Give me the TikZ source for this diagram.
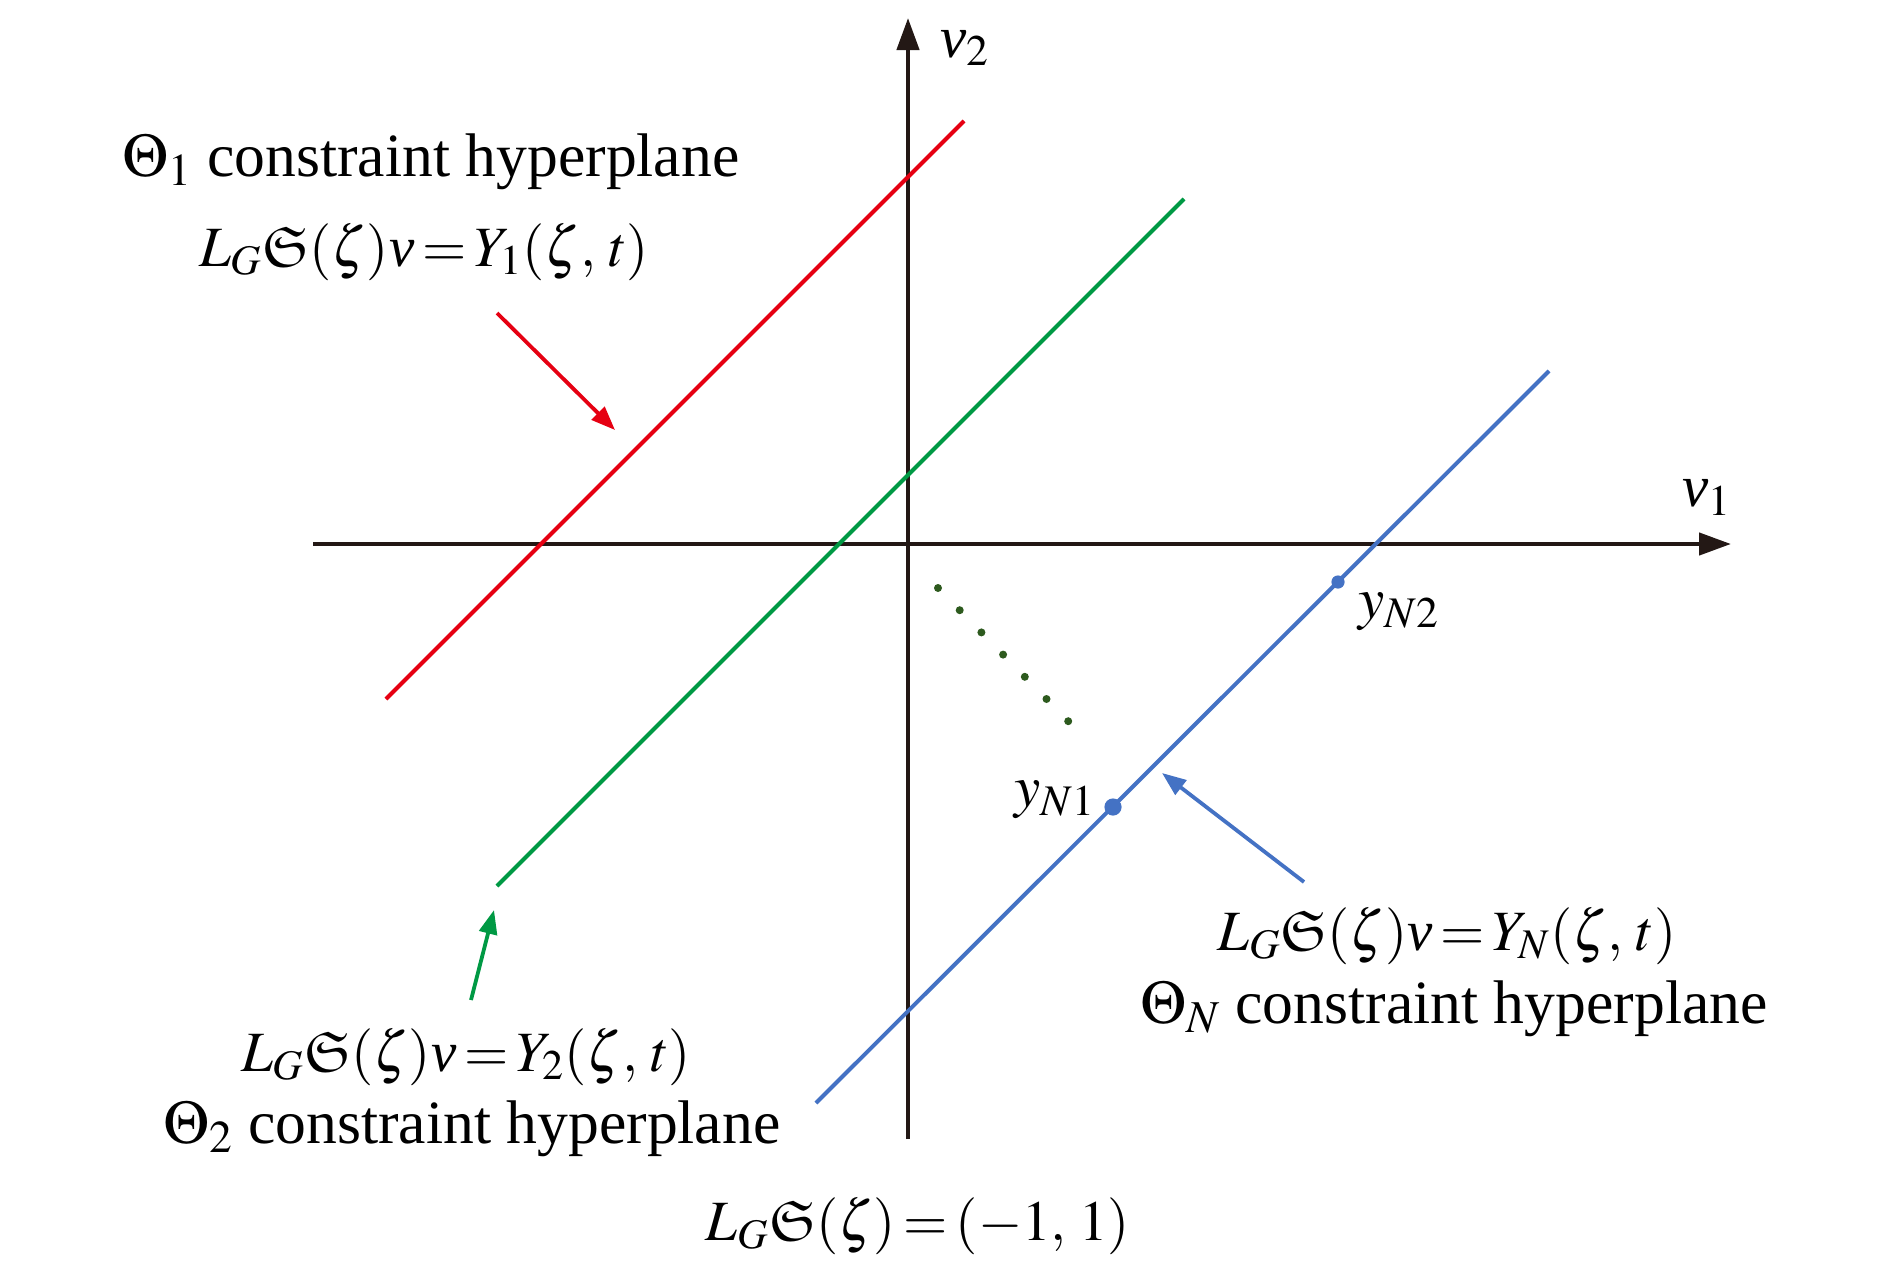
\documentclass[tikz,border=0pt]{standalone}
\usepackage{amssymb}
\usepackage{mathptmx}
\usepackage[no-math]{fontspec}
\setmainfont{Liberation Serif}
\DeclareFontFamily{U}{euf}{}
\DeclareFontShape{U}{euf}{m}{n}{<-> eufm10}{}
\DeclareFontShape{U}{euf}{b}{n}{<-> eufb10}{}
\usetikzlibrary{arrows.meta}
\definecolor{cred}{RGB}{230,0,18}
\definecolor{cgreen}{RGB}{0,153,68}
\definecolor{cblue}{RGB}{68,114,196}
\definecolor{cdots}{RGB}{45,90,30}
\definecolor{caxis}{RGB}{35,24,21}
\newcommand{\tightmath}{\thickmuskip=2.5mu\relax\medmuskip=2.5mu\relax}
\tikzset{
  axisline/.style={draw=caxis,line width=2.2pt,-{Triangle[length=16pt,width=11pt]}},
  hyper/.style={line width=2pt},
  pointer/.style={line width=1.9pt,-{Triangle[length=12pt,width=9pt]}},
  lbl/.style={inner sep=0pt,anchor=base,font=\fontsize{30.8}{36}\selectfont},
  eqn/.style={inner sep=0pt,anchor=base,font=\fontsize{28.5}{34}\selectfont},
  sym/.style={inner sep=0pt,font=\fontsize{29.5}{35}\selectfont},
}
\newcommand{\Sfr}{\mathfrak{S}}
\newcommand{\vv}{\mathord{\textit{v}}}
\begin{document}
\begin{tikzpicture}[x=0.5pt,y=-0.5pt]
\useasboundingbox (0,0) rectangle (1890,1269);
% axes
\coordinate (xl) at (313,544);
\coordinate (xr) at (1731,544);
\coordinate (yb) at (908,1139);
\coordinate (yt) at (908,18);
\draw[axisline] (xl) -- (xr);
\draw[axisline] (yb) -- (yt);
\node[sym] (v2) at (965,48) {$\vv_2$};
\node[sym] (v1) at (1707,497) {$\vv_1$};
% hyperplanes
\coordinate (r1) at (386,699);
\coordinate (r2) at (964,121);
\coordinate (g1) at (497,886);
\coordinate (g2) at (1184,199);
\coordinate (b1) at (816,1103);
\coordinate (b2) at (1549,371);
\draw[hyper,cred] (r1) -- (r2);
\draw[hyper,cgreen] (g1) -- (g2);
\draw[hyper,cblue] (b1) -- (b2);
% dots
\foreach \k in {0,...,6}{
  \fill[cdots] (938+21.7*\k,588+22.2*\k) circle (2pt);
}
% points
\coordinate (yN1) at (1113,807);
\coordinate (yN2) at (1338,582);
\fill[cblue] (yN1) circle (4.3pt);
\fill[cblue] (yN2) circle (3.3pt);
\node[sym] (lN1) at (1055,800) {$y_{N1}$};
\node[sym] (lN2) at (1399,612) {$y_{N2}$};
% arrows
\coordinate (ra1) at (497,313);
\coordinate (ra2) at (615,430);
\coordinate (ga1) at (471,1000);
\coordinate (ga2) at (494,910);
\coordinate (ba1) at (1304,882);
\coordinate (ba2) at (1162,773);
\draw[pointer,cred] (ra1) -- (ra2);
\draw[pointer,cgreen] (ga1) -- (ga2);
\draw[pointer,cblue] (ba1) -- (ba2);
% labels
\node[lbl] (t1) at (431,176) {$\Theta_1$ constraint hyperplane};
\node[eqn] (e1) at (424,266) {\tightmath$L_G\Sfr(\zeta)\vv = Y_1(\zeta,\, t)$};
\node[eqn] (eN) at (1447,950) {\tightmath$L_G\Sfr(\zeta)\vv = Y_N(\zeta,\, t)$};
\node[lbl] (tN) at (1454,1023) {$\Theta_N$ constraint hyperplane};
\node[eqn] (e2) at (466,1071) {\tightmath$L_G\Sfr(\zeta)\vv = Y_2(\zeta,\, t)$};
\node[lbl] (t2) at (472,1143) {$\Theta_2$ constraint hyperplane};
\node[eqn] (eb) at (918,1240) {\tightmath$L_G\Sfr(\zeta) = (-1,\, 1)$};
\end{tikzpicture}
\end{document}
